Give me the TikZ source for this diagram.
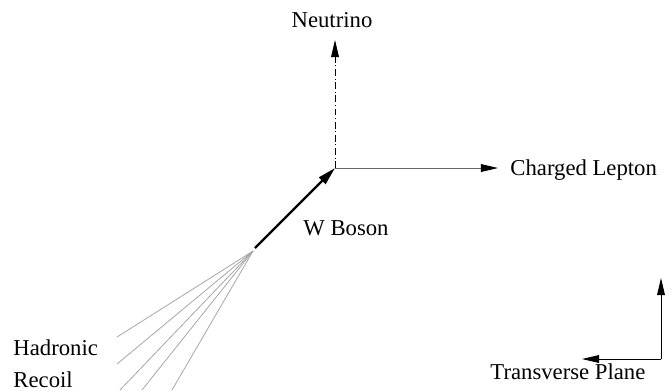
\documentclass[tikz,border=0pt]{standalone}
\usepackage{fontspec}
\setmainfont{Liberation Serif}
\usetikzlibrary{arrows.meta,positioning}

\begin{document}
\begin{tikzpicture}[
    x=0.4405pt, y=-0.4405pt,
    label/.style={inner sep=0pt, font=\fontsize{10pt}{12pt}\selectfont},
    arrow/.style={-{Triangle[length=7.5pt, width=3.4pt, color=black]}, line width=0.4pt},
    boson/.style={-{Triangle[length=8pt, width=4pt]}, line width=1pt},
    recoil/.style={gray!70, line width=0.35pt}
  ]
    \useasboundingbox (0,0) rectangle (672,390);

    % vertex of the decay and the hadronic recoil
    \coordinate (vertex) at (335,168);
    \coordinate (hadron) at (253,251);
    \coordinate (wtail) at (255,248);
    \coordinate (nutip) at (335,40);
    \coordinate (leptip) at (498,168);

    \node[label, anchor=base] (neutrino) at (332,27) {Neutrino};
    \node[label, anchor=base west] (lepton) at (510,175) {Charged Lepton};
    \node[label, anchor=base west] (wboson) at (303,235) {W Boson};
    \node[label, anchor=base west] (hadronic) at (13,355) {Hadronic};
    \node[label, anchor=base west] (recoiltext) at (13,387) {Recoil};

    \draw[arrow, dash pattern=on 3pt off 1.2pt on 0.4pt off 1.2pt] (vertex) -- (nutip);
    \draw[arrow, black!60] (vertex) -- (leptip);
    \draw[boson] (wtail) -- (vertex);

    % fan of recoil tracks
    \foreach \n/\p in {1/{117,337}, 2/{117,364}, 3/{120,390}, 4/{142,390}, 5/{172,390}} {
      \coordinate (track\n) at (\p);
      \draw[recoil] (hadron) -- (track\n);
    }

    % transverse plane axes
    \coordinate (corner) at (661,359);
    \coordinate (uptip) at (661,278);
    \coordinate (lefttip) at (582,359);
    \draw[arrow] (corner) -- (uptip);
    \draw[arrow] (corner) -- (lefttip);
    \node[label, anchor=base west] (plane) at (490,379) {Transverse Plane};
  \end{tikzpicture}
\end{document}
